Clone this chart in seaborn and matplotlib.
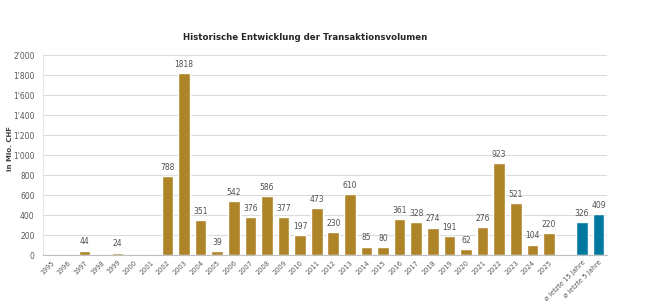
import seaborn as sns
import matplotlib.pyplot as plt
import pandas as pd
import numpy as np
from matplotlib.ticker import FuncFormatter, MultipleLocator

# ---------------------------------------------------------------
# Daten
# ---------------------------------------------------------------

jahre = [str(j) for j in range(1995, 2026)]
volumen = [0, 0, 44, 0, 24, 0, 0, 788, 1818, 351, 39, 542, 376, 586, 377,
           197, 473, 230, 610, 85, 80, 361, 328, 274, 191, 62, 276, 923,
           521, 104, 220]
avg_labels = ["ø letzte 15 Jahre", "ø letzte 5 Jahre"]
avg_werte = [326, 409]

kategorien = jahre + [" "] + avg_labels

df = pd.DataFrame({
    "Kategorie": jahre + avg_labels,
    "Wert": volumen + avg_werte,
    "Art": ["Jahr"] * len(jahre) + ["Durchschnitt"] * len(avg_labels),
})

# ---------------------------------------------------------------
# Plot
# ---------------------------------------------------------------

sns.set_theme(style="white")
plt.rcParams["font.family"] = ["Liberation Sans Narrow", "DejaVu Sans"]

fig = plt.figure(figsize=(6.46, 3.04), dpi=100)
ax = fig.add_axes([0.0666, 0.161, 0.873, 0.658])

sns.barplot(data=df, x="Kategorie", y="Wert", hue="Art", order=kategorien,
            palette={"Jahr": "#AE8429", "Durchschnitt": "#00789F"},
            dodge=False, width=0.7, saturation=1, legend=False, ax=ax)

for cont in ax.containers:
    labs = [f"{v:.0f}" if v > 0 else "" for v in cont.datavalues]
    ax.bar_label(cont, labels=labs, padding=3, fontsize=5.5, color="#505050")

ax.set_xlim(-0.5, len(kategorien) - 0.5)
ax.set_ylim(0, 2000)
ax.yaxis.set_major_locator(MultipleLocator(200))
ax.yaxis.set_major_formatter(
    FuncFormatter(lambda v, p: f"{int(v):,}".replace(",", "'")))
ax.grid(axis="y", color="#dcdcdc", linewidth=0.8)
ax.set_axisbelow(True)

ax.set_xticks(range(len(kategorien)))
ax.set_xticklabels(kategorien, rotation=45, ha="right",
                   rotation_mode="anchor", fontsize=4.8, color="#595959")
ax.set_xticks(np.arange(-0.5, len(kategorien)), minor=True)
ax.tick_params(axis="x", which="major", length=0, pad=3)
ax.tick_params(axis="x", which="minor", length=3, color="#bfbfbf", width=0.6)
ax.tick_params(axis="y", labelsize=5.5, labelcolor="#595959", length=0, pad=6)

ax.set_xlabel("")
ax.set_ylabel("")
fig.text(0.016, 0.51, "in Mio. CHF", rotation=90, ha="center", va="center",
         fontsize=5, fontweight="bold", color="#404040")

for s in ["top", "right"]:
    ax.spines[s].set_visible(False)
ax.spines["left"].set_color("#e6e6e6")
ax.spines["left"].set_linewidth(0.8)
ax.spines["bottom"].set_color("#bfbfbf")
ax.spines["bottom"].set_linewidth(0.8)

fig.text(0.472, 0.875, "Historische Entwicklung der Transaktionsvolumen",
         ha="center", va="center", fontsize=6.2, fontweight="bold",
         color="#262626")

fig.savefig("out.png", dpi=100)
